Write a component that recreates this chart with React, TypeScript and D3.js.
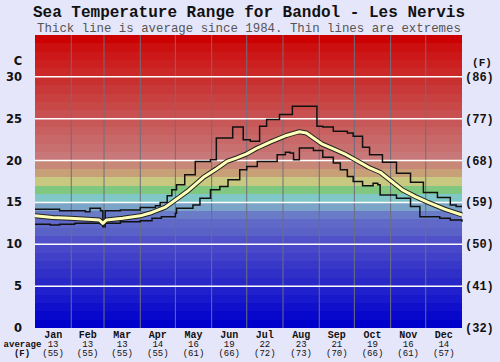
import * as React from 'react';
import * as d3 from 'd3';

const MONTHS = ['Jan', 'Feb', 'Mar', 'Apr', 'May', 'Jun', 'Jul', 'Aug', 'Sep', 'Oct', 'Nov', 'Dec'];
const MONTH_DAYS = [31, 28, 31, 30, 31, 30, 31, 31, 30, 31, 30, 31];
const AVG_C = [13, 13, 13, 14, 16, 19, 22, 23, 21, 19, 16, 14];
const AVG_F = [55, 55, 55, 55, 61, 66, 72, 73, 70, 66, 61, 57];
const C_TICKS = [0, 5, 10, 15, 20, 25, 30];
const F_TICKS = ['(32)', '(41)', '(50)', '(59)', '(68)', '(77)', '(86)'];

// [day of year, deg C]
const AVG_LINE: [number, number][] = [
  [0, 13.4], [15, 13.2], [30, 13.1], [45, 13.0], [55, 12.9], [58, 12.5], [61, 12.9],
  [75, 13.1], [90, 13.4], [100, 13.8], [111, 14.4], [120, 15.3], [130, 16.3],
  [144, 18.0], [155, 19.0], [164, 19.9], [172, 20.3], [181, 20.8], [190, 21.5],
  [201, 22.2], [215, 23.0], [226, 23.45], [232, 23.3], [238, 22.7], [245, 22.0],
  [255, 21.4], [266, 20.7], [275, 20.0], [285, 19.2], [295, 18.6], [305, 17.5],
  [314, 16.5], [325, 15.7], [336, 15.0], [350, 14.2], [365, 13.5]
];
const MAX_LINE: [number, number][] = [
  [0, 14.2], [13, 14.2], [21, 14.0], [43, 13.9], [47, 14.3], [56, 14.0], [58, 12.4],
  [60, 14.0], [73, 14.1], [90, 14.4], [103, 14.6], [107, 15.0], [113, 15.8],
  [117, 16.5], [121, 17.1], [128, 18.3], [137, 19.9], [150, 20.1], [155, 22.7],
  [169, 24.0], [178, 22.5], [184, 22.3], [192, 24.1], [198, 24.9], [209, 25.5],
  [220, 26.5], [241, 24.1], [246, 24.0], [255, 23.5], [267, 23.3], [272, 22.9],
  [280, 21.6], [286, 20.7], [297, 19.8], [309, 18.5], [321, 17.4], [332, 16.2],
  [344, 15.6], [355, 14.7], [360, 14.5], [365, 14.5]
];
const MIN_LINE: [number, number][] = [
  [0, 12.4], [13, 12.3], [21, 12.4], [34, 12.5], [47, 12.5], [56, 12.4], [58, 12.1],
  [60, 12.5], [73, 12.7], [90, 12.8], [100, 13.1], [108, 13.3], [120, 13.7],
  [121, 14.3], [135, 14.7], [141, 15.5], [150, 16.5], [158, 16.9], [165, 17.7],
  [175, 18.9], [181, 19.3], [190, 19.9], [201, 19.9], [207, 20.7], [214, 21.0],
  [218, 20.9], [221, 20.1], [226, 21.5], [232, 21.5], [238, 21.2], [246, 20.4],
  [255, 19.7], [261, 18.9], [267, 18.1], [272, 17.5], [280, 17.0], [289, 17.3],
  [293, 17.1], [295, 15.9], [309, 15.5], [321, 14.5], [329, 13.3], [346, 13.1],
  [355, 12.9], [365, 12.7]
];

// one colour per 1 degree band, from 0 upward
const BAND_COLORS = [
  '#0000cc', '#0808cc', '#1010cc', '#1818cc', '#2020cc', '#2828c8', '#3030c8', '#3838c8',
  '#4040c8', '#4848c8', '#5050c8', '#5a62c8', '#6068c8', '#6a7cc8', '#7ca4c8', '#80c8c8',
  '#80c880', '#c8c880', '#c8a078', '#c88878', '#c87878', '#c87070', '#c86868', '#c86060',
  '#c85858', '#c85050', '#c84848', '#c84040', '#c83838', '#c83030', '#cc2828', '#cc2020',
  '#cc1818', '#cc1010', '#cc0000'
];

const mono = '"Liberation Mono", "Courier New", monospace';

export default function App() {
  const x = d3.scaleLinear().domain([0, 365]).range([35, 462]);
  const y = d3.scaleLinear().domain([0, 35]).range([328, 35]);
  const monthStarts = MONTH_DAYS.map((_, i) => d3.sum(MONTH_DAYS.slice(0, i)));

  const stepLine = d3
    .line<[number, number]>()
    .x(d => x(d[0]))
    .y(d => y(d[1]))
    .curve(d3.curveStepAfter);
  const smoothLine = d3
    .line<[number, number]>()
    .x(d => x(d[0]))
    .y(d => y(d[1]));

  return (
    <svg width={500} height={362} style={{ position: 'absolute', left: 0, top: 0 }}>
      <rect x={0} y={0} width={500} height={362} fill="#e6e6fa" />
      <text x={249} y={17} textAnchor="middle" fontFamily={mono} fontWeight="bold" fontSize={16} fill="#111">
        Sea Temperature Range for Bandol - Les Nervis
      </text>
      <text x={249} y={31.5} textAnchor="middle" fontFamily={mono} fontSize={12.4} fill="#555">
        Thick line is average since 1984. Thin lines are extremes
      </text>

      {BAND_COLORS.map((c, i) => (
        <rect
          key={i}
          x={x(0)}
          y={y(i + 1)}
          width={x(365) - x(0)}
          height={y(i) - y(i + 1)}
          fill={c}
          shapeRendering="crispEdges"
        />
      ))}
      {monthStarts.slice(1).map(d => (
        <line key={d} x1={x(d)} x2={x(d)} y1={y(35)} y2={y(0)} stroke="#6e6e7e" strokeWidth={1} />
      ))}
      {C_TICKS.filter(t => t > 0).map(t => (
        <line key={t} x1={x(0)} x2={x(365)} y1={y(t)} y2={y(t)} stroke="#ffffff" strokeWidth={1.5} />
      ))}

      <path d={stepLine(MAX_LINE) || ''} fill="none" stroke="#111" strokeWidth={1.5} />
      <path d={stepLine(MIN_LINE) || ''} fill="none" stroke="#111" strokeWidth={1.5} />
      <path d={smoothLine(AVG_LINE) || ''} fill="none" stroke="#222" strokeWidth={5} strokeLinejoin="round" />
      <path d={smoothLine(AVG_LINE) || ''} fill="none" stroke="#ffffb8" strokeWidth={3} strokeLinejoin="round" />

      <text x={18} y={65} textAnchor="middle" fontFamily="DejaVu Sans" fontWeight="bold" fontSize={11.5} fill="#111">C</text>
      {C_TICKS.map(t => (
        <text key={t} x={22} y={y(t) + 4} textAnchor="end" fontFamily="DejaVu Sans" fontWeight="bold" fontSize={11.5} fill="#111">
          {t}
        </text>
      ))}
      <text x={482} y={66} textAnchor="middle" fontFamily={mono} fontWeight="bold" fontSize={11} fill="#111">(F)</text>
      {F_TICKS.map((t, i) => (
        <text key={t} x={465} y={y(C_TICKS[i]) + 4} fontFamily={mono} fontWeight="bold" fontSize={12} fill="#111">
          {t}
        </text>
      ))}

      {MONTHS.map((m, i) => {
        const cx = x(monthStarts[i] + MONTH_DAYS[i] / 2);
        return (
          <g key={m} textAnchor="middle" fontFamily={mono} fill="#111">
            <text x={cx} y={337.5} fontWeight="bold" fontSize={10}>{m}</text>
            <text x={cx} y={346.5} fontSize={9}>{AVG_C[i]}</text>
            <text x={cx} y={355.5} fontSize={9}>({AVG_F[i]})</text>
          </g>
        );
      })}
      <text x={22.5} y={346.5} textAnchor="middle" fontFamily={mono} fontWeight="bold" fontSize={9} fill="#111">average</text>
      <text x={22} y={355.5} textAnchor="middle" fontFamily={mono} fontWeight="bold" fontSize={9} fill="#111">(F)</text>
    </svg>
  );
}
